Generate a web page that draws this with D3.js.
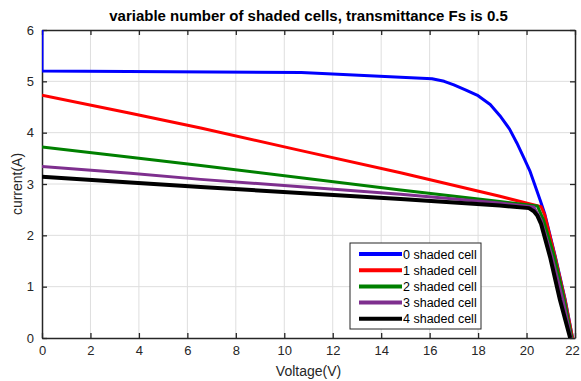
<!DOCTYPE html>
<html><head><meta charset="utf-8">
<script src="https://cdn.jsdelivr.net/npm/d3@7"></script>
<style>body{margin:0;background:#fff}svg{display:block}</style>
</head><body>
<svg id="c" width="581" height="381"></svg>
<script>
const xTicks = [0,2,4,6,8,10,12,14,16,18,20,22];
const yTicks = [0,1,2,3,4,5,6];
const seriesNames = ["0 shaded cell","1 shaded cell","2 shaded cell","3 shaded cell","4 shaded cell"];
const seriesColors = ["#0000ff","#ff0000","#008000","#7e2f8e","#000000"];
const v0 = [0,0,10.7,16.1,16.6,17.0,17.5,18.0,18.5,18.9,19.3,19.6,19.9,20.15,20.35,20.56,20.75,21.18,21.59,21.9];
const i0 = [6.0,5.2,5.17,5.05,5.0,4.93,4.83,4.72,4.55,4.33,4.07,3.80,3.50,3.24,2.97,2.69,2.42,1.6,0.76,0];
const v1 = [0,3.65,6.55,10.6,14.8,18.9,20.6,20.75,21.18,21.59,21.9];
const i1 = [4.73,4.38,4.09,3.66,3.22,2.76,2.56,2.40,1.58,0.74,0];
const v2 = [0,3.65,6.55,14.8,18.9,20.45,20.7,21.15,21.56,21.87];
const i2 = [3.72,3.52,3.36,2.885,2.66,2.57,2.30,1.58,0.74,0];
const v3 = [0,3.65,6.55,14.8,18.9,20.3,20.6,21.05,21.5,21.84];
const i3 = [3.34,3.21,3.09,2.80,2.63,2.55,2.30,1.58,0.74,0];
const v4 = [0,3.65,6.55,14.8,18.9,20.1,20.3,20.45,20.6,20.97,21.38,21.8];
const i4 = [3.14,3.03,2.94,2.71,2.58,2.53,2.47,2.38,2.22,1.58,0.74,0];

const V = [v0,v1,v2,v3,v4], I = [i0,i1,i2,i3,i4];
const widths = [3,3,3,3,4];

const L=42, R=575, T=30, B=338;
const svg = d3.select("#c");
const x = d3.scaleLinear().domain([0,22]).range([L,R]);
const y = d3.scaleLinear().domain([0,6]).range([B,T]);
const font = "'Liberation Sans', Arial, sans-serif";
const axisCol = "#262626";

// grid
const g = svg.append("g");
g.selectAll(".gx").data(xTicks.slice(1,-1)).enter().append("line")
  .attr("x1",d=>x(d)).attr("x2",d=>x(d)).attr("y1",T).attr("y2",B)
  .attr("stroke","#dedede").attr("stroke-width",1);
g.selectAll(".gy").data(yTicks.slice(1,-1)).enter().append("line")
  .attr("y1",d=>y(d)).attr("y2",d=>y(d)).attr("x1",L).attr("x2",R)
  .attr("stroke","#dedede").attr("stroke-width",1);

// axes
const fmt = d3.format("d");
const xa = svg.append("g").attr("transform",`translate(0,${B})`)
  .call(d3.axisBottom(x).tickValues(xTicks).tickFormat(fmt).tickSizeInner(-5).tickSizeOuter(0).tickPadding(8));
const xt = svg.append("g").attr("transform",`translate(0,${T})`)
  .call(d3.axisTop(x).tickValues(xTicks).tickSizeInner(-5).tickSizeOuter(0).tickFormat(""));
const ya = svg.append("g").attr("transform",`translate(${L},0)`)
  .call(d3.axisLeft(y).tickValues(yTicks).tickFormat(fmt).tickSizeInner(-5).tickSizeOuter(0).tickPadding(8));
const yr = svg.append("g").attr("transform",`translate(${R},0)`)
  .call(d3.axisRight(y).tickValues(yTicks).tickSizeInner(-5).tickSizeOuter(0).tickFormat(""));
[xa,xt,ya,yr].forEach(a=>{
  a.select(".domain").attr("stroke",axisCol).attr("stroke-width",1.5);
  a.selectAll(".tick line").attr("stroke",axisCol).attr("stroke-width",1.3);
  a.selectAll("text").attr("fill",axisCol).style("font-family",font).style("font-size","13px");
});
xa.selectAll(".tick text").filter(d=>d===22).attr("dx",-3);

// lines
svg.append("clipPath").attr("id","clip").append("rect")
  .attr("x",L).attr("y",T-2).attr("width",R-L).attr("height",B-T+2);
const line = d3.line().x(d=>x(d[0])).y(d=>y(d[1]));
const lg = svg.append("g").attr("clip-path","url(#clip)");
V.forEach((vs,k)=>{
  const pts = vs.map((v,j)=>[v,I[k][j]]);
  lg.append("path").datum(pts).attr("d",line).attr("fill","none")
    .attr("stroke",seriesColors[k]).attr("stroke-width",widths[k])
    .attr("stroke-linejoin","round");
});

// title & labels
svg.append("text").attr("x",(L+R)/2).attr("y",21).attr("text-anchor","middle")
  .style("font-family",font).style("font-size","15px").style("font-weight","bold")
  .text("variable number of shaded cells, transmittance Fs is 0.5");
svg.append("text").attr("x",(L+R)/2).attr("y",376).attr("text-anchor","middle")
  .attr("fill",axisCol).style("font-family",font).style("font-size","14px").text("Voltage(V)");
svg.append("text").attr("transform",`translate(22,${(T+B)/2}) rotate(-90)`).attr("text-anchor","middle")
  .attr("fill",axisCol).style("font-family",font).style("font-size","14px").text("current(A)");

// legend
const lgX=350, lgY=243, lgW=131, lgH=86;
const leg = svg.append("g");
leg.append("rect").attr("x",lgX).attr("y",lgY).attr("width",lgW).attr("height",lgH)
  .attr("fill","#fff").attr("stroke",axisCol).attr("stroke-width",1);
seriesNames.forEach((n,k)=>{
  const yy = lgY+11+k*16.2;
  leg.append("line").attr("x1",lgX+9).attr("x2",lgX+52).attr("y1",yy).attr("y2",yy)
    .attr("stroke",seriesColors[k]).attr("stroke-width",4);
  leg.append("text").attr("x",lgX+53).attr("y",yy+4.5).attr("fill","#000")
    .style("font-family",font).style("font-size","12.5px").text(n);
});
</script>
</body></html>
